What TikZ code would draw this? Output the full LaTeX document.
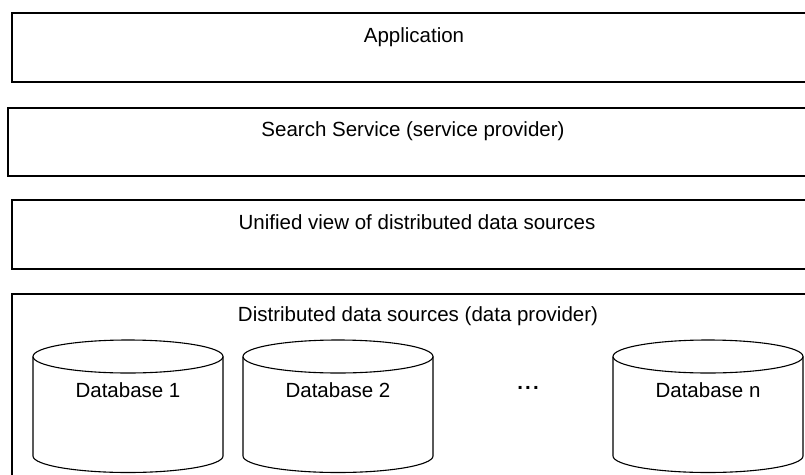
\documentclass[tikz,border=0pt]{standalone}
\usepackage{fontspec}
\setmainfont{Liberation Sans}
\begin{document}
\begin{tikzpicture}[x=1pt,y=-1pt,
  layerbox/.style={draw=black,line width=1.6pt},
  dbline/.style={draw=black,line width=1.1pt},
  lbl/.style={inner sep=0pt,anchor=base,font=\fontsize{20.5}{24}\selectfont},
  dots/.style={inner sep=0pt,font=\bfseries\fontsize{20.5}{24}\selectfont}]
\useasboundingbox (0,0) rectangle (805,474);
\clip (0,0) rectangle (805,474);

% layer boxes (they run past the right and bottom edges)
\draw[layerbox] (12,13) rectangle (830,82);
\draw[layerbox] (8,108) rectangle (830,176);
\draw[layerbox] (12,200) rectangle (830,269);
\draw[layerbox] (12,294) rectangle (830,490);

% layer labels
\node[lbl] (app)     at (414,42.5)  {Application};
\node[lbl] (search)  at (413,136)   {Search Service (service provider)};
\node[lbl] (unified) at (417,229)   {Unified view of distributed data sources};
\node[lbl] (distrib) at (418,321.5) {Distributed data sources (data provider)};

% databases drawn as cylinders
\foreach \cx/\nm/\txt in {128/db1/Database 1, 338/db2/Database 2, 708/dbn/Database n}{
  \draw[dbline,fill=white] (\cx-95,356.5) -- (\cx-95,456)
     arc[start angle=180,end angle=360,x radius=95pt,y radius=16.5pt]
     -- (\cx+95,356.5);
  \draw[dbline] (\cx,356.5) ellipse[x radius=95pt,y radius=16.5pt];
  \node[lbl] (\nm) at (\cx,397) {\txt};
}
\node[dots] (gap) at (528,388) {.\hspace{2.2pt}.\hspace{2.2pt}.};
\end{tikzpicture}
\end{document}
